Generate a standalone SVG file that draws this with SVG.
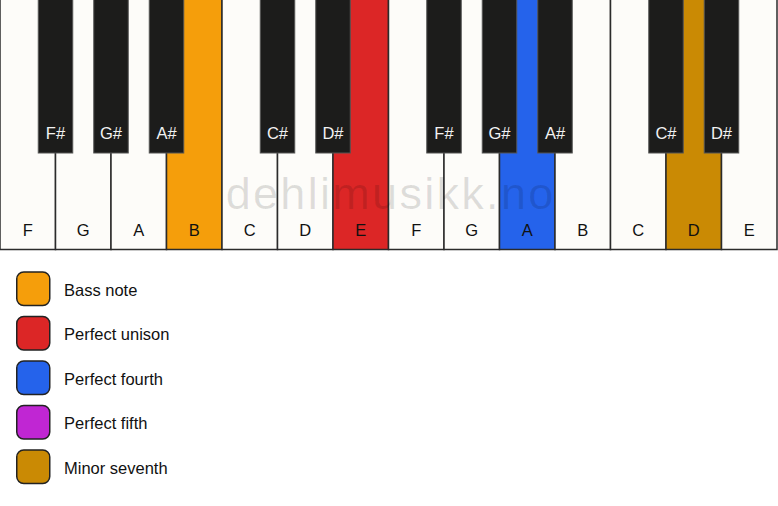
<svg xmlns="http://www.w3.org/2000/svg" width="778" height="506" viewBox="0 0 778 506">
<style>
.w{fill:#fdfcf9;stroke:#2b2b2b;stroke-width:1.5}
.b{fill:#1c1c1b;stroke:#555;stroke-width:1}
.lw{font-family:"Liberation Sans",Arial,sans-serif;font-size:16.5px;fill:#111;text-anchor:middle}
.lb{font-family:"Liberation Sans",Arial,sans-serif;font-size:16.5px;fill:#f2f2f2;text-anchor:middle}
.sw{stroke:#222;stroke-width:1.5}
.lt{font-family:"Liberation Sans",Arial,sans-serif;font-size:16.5px;fill:#111}
</style>
<rect width="778" height="506" fill="#ffffff"/>
<g id="white-keys">
<g id="key-F1"><rect class="w" x="0" y="-2" width="55.5" height="251.5"/><text class="lw" x="27.75" y="236">F</text></g>
<g id="key-G1"><rect class="w" x="55.5" y="-2" width="55.5" height="251.5"/><text class="lw" x="83.25" y="236">G</text></g>
<g id="key-A1"><rect class="w" x="111" y="-2" width="55.5" height="251.5"/><text class="lw" x="138.75" y="236">A</text></g>
<g id="key-B1"><rect class="w" x="166.5" y="-2" width="55.5" height="251.5" style="fill:#f59e0b"/><text class="lw" x="194.25" y="236">B</text></g>
<g id="key-C1"><rect class="w" x="222" y="-2" width="55.5" height="251.5"/><text class="lw" x="249.75" y="236">C</text></g>
<g id="key-D1"><rect class="w" x="277.5" y="-2" width="55.5" height="251.5"/><text class="lw" x="305.25" y="236">D</text></g>
<g id="key-E1"><rect class="w" x="333" y="-2" width="55.5" height="251.5" style="fill:#dc2626"/><text class="lw" x="360.75" y="236">E</text></g>
<g id="key-F2"><rect class="w" x="388.5" y="-2" width="55.5" height="251.5"/><text class="lw" x="416.25" y="236">F</text></g>
<g id="key-G2"><rect class="w" x="444" y="-2" width="55.5" height="251.5"/><text class="lw" x="471.75" y="236">G</text></g>
<g id="key-A2"><rect class="w" x="499.5" y="-2" width="55.5" height="251.5" style="fill:#2563eb"/><text class="lw" x="527.25" y="236">A</text></g>
<g id="key-B2"><rect class="w" x="555" y="-2" width="55.5" height="251.5"/><text class="lw" x="582.75" y="236">B</text></g>
<g id="key-C2"><rect class="w" x="610.5" y="-2" width="55.5" height="251.5"/><text class="lw" x="638.25" y="236">C</text></g>
<g id="key-D2"><rect class="w" x="666" y="-2" width="55.5" height="251.5" style="fill:#ca8a04"/><text class="lw" x="693.75" y="236">D</text></g>
<g id="key-E2"><rect class="w" x="721.5" y="-2" width="55.5" height="251.5"/><text class="lw" x="749.25" y="236">E</text></g>
</g>
<text x="225.7" y="208.5" font-family="'Liberation Sans',Arial,sans-serif" font-size="45" letter-spacing="2.3" fill="#000" fill-opacity="0.12">dehlimusikk.no</text>
<g id="black-keys">
<g id="key-Fs1"><rect class="b" x="38.25" y="-1" width="34.5" height="154"/><text class="lb" x="55.5" y="139">F#</text></g>
<g id="key-Gs1"><rect class="b" x="93.75" y="-1" width="34.5" height="154"/><text class="lb" x="111" y="139">G#</text></g>
<g id="key-As1"><rect class="b" x="149.25" y="-1" width="34.5" height="154"/><text class="lb" x="166.5" y="139">A#</text></g>
<g id="key-Cs1"><rect class="b" x="260.25" y="-1" width="34.5" height="154"/><text class="lb" x="277.5" y="139">C#</text></g>
<g id="key-Ds1"><rect class="b" x="315.75" y="-1" width="34.5" height="154"/><text class="lb" x="333" y="139">D#</text></g>
<g id="key-Fs2"><rect class="b" x="426.75" y="-1" width="34.5" height="154"/><text class="lb" x="444" y="139">F#</text></g>
<g id="key-Gs2"><rect class="b" x="482.25" y="-1" width="34.5" height="154"/><text class="lb" x="499.5" y="139">G#</text></g>
<g id="key-As2"><rect class="b" x="537.75" y="-1" width="34.5" height="154"/><text class="lb" x="555" y="139">A#</text></g>
<g id="key-Cs2"><rect class="b" x="648.75" y="-1" width="34.5" height="154"/><text class="lb" x="666" y="139">C#</text></g>
<g id="key-Ds2"><rect class="b" x="704.25" y="-1" width="34.5" height="154"/><text class="lb" x="721.5" y="139">D#</text></g>
</g>
<g id="legend">
<g id="legend-bass"><rect class="sw" x="16.75" y="272" width="33" height="33.5" rx="7" fill="#f59e0b"/><text class="lt" x="64" y="295.8">Bass note</text></g>
<g id="legend-unison"><rect class="sw" x="16.75" y="316.5" width="33" height="33.5" rx="7" fill="#dc2626"/><text class="lt" x="64" y="340.3">Perfect unison</text></g>
<g id="legend-fourth"><rect class="sw" x="16.75" y="361" width="33" height="33.5" rx="7" fill="#2563eb"/><text class="lt" x="64" y="384.8">Perfect fourth</text></g>
<g id="legend-fifth"><rect class="sw" x="16.75" y="405.5" width="33" height="33.5" rx="7" fill="#c026d3"/><text class="lt" x="64" y="429.3">Perfect fifth</text></g>
<g id="legend-seventh"><rect class="sw" x="16.75" y="450" width="33" height="33.5" rx="7" fill="#ca8a04"/><text class="lt" x="64" y="473.8">Minor seventh</text></g>
</g>
</svg>
